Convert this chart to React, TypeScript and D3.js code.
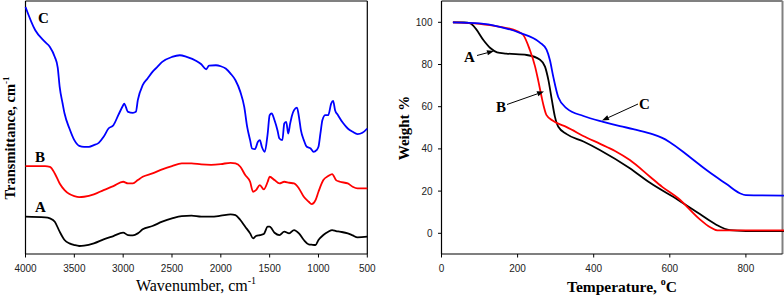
import React from "react";
import * as d3 from "d3";

// ---------- FTIR data (left panel), transmittance in arbitrary units ----------
const ftirWavenumbers_C = [4000,3900,3800,3750,3700,3670,3650,3620,3600,3550,3500,3450,3400,3350,3300,3250,3200,3150,3100,3050,3000,2990,2950,2900,2870,2850,2800,2750,2700,2650,2600,2500,2420,2350,2250,2200,2150,2120,2050,2000,1950,1900,1850,1800,1760,1730,1700,1680,1650,1620,1600,1580,1550,1520,1500,1480,1450,1420,1400,1370,1350,1330,1310,1290,1270,1250,1220,1200,1180,1150,1120,1080,1050,1020,1000,980,960,930,900,870,850,830,800,750,700,650,600,550,500];
const ftirC = [742,672,637,622,592,560,502,452,422,377,342,325,322,322,327,334,352,377,387,417,447,452,427,424,427,462,507,527,547,562,577,592,597,592,580,570,555,566,567,564,557,542,522,487,442,382,342,317,315,337,342,322,307,362,417,422,402,372,347,342,392,397,362,392,417,432,440,412,372,342,322,317,307,312,322,362,402,417,417,452,460,432,417,394,377,367,360,364,377];

const ftirWavenumbers_AB = [4000,3800,3750,3700,3650,3600,3550,3500,3450,3400,3300,3200,3100,3000,2950,2900,2850,2800,2700,2600,2500,2400,2300,2200,2100,2000,1900,1850,1800,1750,1700,1670,1640,1600,1560,1520,1500,1450,1400,1350,1300,1250,1200,1150,1100,1070,1030,1000,950,900,860,820,780,700,650,600,500];
const ftirB = [264,264,262,242,212,192,180,174,171,172,179,192,204,217,212,212,222,232,242,254,264,272,272,269,268,270,274,272,262,237,217,187,192,207,194,217,232,222,212,217,214,212,197,172,157,150,162,187,222,234,240,222,217,212,202,197,197];
const ftirA = [112,110,107,97,67,42,32,27,24,25,32,44,54,64,57,56,62,74,84,97,107,114,115,112,112,115,119,117,102,82,62,47,54,57,60,82,82,64,57,67,62,72,62,42,29,28,27,42,57,67,72,69,67,62,56,50,52];

const ftirXTicks = [4000,3500,3000,2500,2000,1500,1000,500];

// ---------- TGA data (right panel), weight % ----------
const tgaTempA = [30,60,76,90,110,129,146,170,224,259,272,281,290,298,307,329,373,416,495,548,622,679,720,758,800,900];
const tgaA = [100,100,99.5,97,91.6,87.7,85.8,85.2,84.5,82.3,79,72.6,63.2,55.3,50.5,47,43.5,39.5,30.8,23.9,15.8,9.1,4.3,1.5,1.1,1.0];

const tgaTempB = [30,100,150,200,215,232,246,254,263,269,276,294,329,382,417,456,495,548,580,622,679,705,725,800,900];
const tgaB = [100,99.3,98,95.7,94,87,79,72.6,64.7,60,56,53.2,50.3,45.3,42.4,39,34.7,26.8,22,16.6,6.6,3,1.4,1.4,1.4];

const tgaTempC = [30,100,150,206,258,276,285,294,307,329,373,425,469,504,550,580,600,650,700,750,784,800,900];
const tgaC = [100,99.5,98,95,90.5,87,82,74,64.5,59.2,55.6,52.8,50.8,49.4,47.2,45.2,43.2,36.5,29.5,23.2,19,18.1,17.9];

const tgaXTicks = [0,200,400,600,800];
const tgaYTicks = [0,20,40,60,80,100];

const SERIF = "'Liberation Serif', 'Times New Roman', serif";
const SANS = "'Liberation Sans', Arial, sans-serif";

export default function App() {
  // Left panel
  const L = { left: 25.5, right: 367.3, top: 1, bottom: 254 };
  const xL = d3.scaleLinear().domain([4000, 500]).range([L.left, L.right]);
  const yL = d3.scaleLinear().domain([0, 760]).range([L.bottom, L.top]);
  const lineL = (xs: number[], ys: number[]) =>
    d3.line<number>().x((_, i) => xL(xs[i])).y((d) => yL(d)).curve(d3.curveMonotoneX)(ys) || "";

  // Right panel
  const R = { left: 441.5, right: 782.5, top: 1, bottom: 254 };
  const xR = d3.scaleLinear().domain([0, 900]).range([R.left, R.left + 900 * 0.3805]);
  const yR = d3.scaleLinear().domain([0, 100]).range([233.3, 22.3]);
  const lineR = (xs: number[], ys: number[]) =>
    d3.line<number>().x((_, i) => xR(xs[i])).y((d) => yR(d)).curve(d3.curveMonotoneX)(ys) || "";

  const arrow = (x1: number, y1: number, x2: number, y2: number) => {
    const ang = Math.atan2(y2 - y1, x2 - x1);
    const len = 7, w = 2.6;
    const bx = x2 - len * Math.cos(ang), by = y2 - len * Math.sin(ang);
    const px = -Math.sin(ang) * w, py = Math.cos(ang) * w;
    return (
      <g>
        <line x1={x1} y1={y1} x2={bx} y2={by} stroke="#000" strokeWidth={1} />
        <path d={`M${x2},${y2}L${bx + px},${by + py}L${bx - px},${by - py}Z`} fill="#000" />
      </g>
    );
  };

  return (
    <svg width={784} height={298} style={{ position: "absolute", left: 0, top: 0, background: "#fff" }}>
      {/* ---------- Left panel ---------- */}
      <line x1={L.left} y1={L.top} x2={L.right} y2={L.top} stroke="#808080" strokeWidth={2} />
      <line x1={L.left} y1={L.top} x2={L.left} y2={L.bottom} stroke="#000" strokeWidth={1.2} />
      <line x1={L.right} y1={L.top} x2={L.right} y2={L.bottom} stroke="#000" strokeWidth={1.2} />
      <line x1={L.left} y1={L.bottom} x2={L.right} y2={L.bottom} stroke="#000" strokeWidth={1.2} />
      {ftirXTicks.map((t) => (
        <g key={t}>
          <line x1={xL(t)} x2={xL(t)} y1={L.bottom} y2={L.bottom + 3.5} stroke="#000" strokeWidth={1} />
          <text x={xL(t)} y={272} textAnchor="middle" fontFamily={SANS} fontSize={10} fill="#222">{t}</text>
        </g>
      ))}
      <path d={lineL(ftirWavenumbers_C, ftirC)} fill="none" stroke="#0000ff" strokeWidth={1.8} />
      <path d={lineL(ftirWavenumbers_AB, ftirB)} fill="none" stroke="#ff0000" strokeWidth={1.8} />
      <path d={lineL(ftirWavenumbers_AB, ftirA)} fill="none" stroke="#000" strokeWidth={1.8} />
      <text x={38} y={23} fontFamily={SERIF} fontWeight="bold" fontSize={15}>C</text>
      <text x={35} y={162} fontFamily={SERIF} fontWeight="bold" fontSize={15}>B</text>
      <text x={35} y={212} fontFamily={SERIF} fontWeight="bold" fontSize={15}>A</text>
      <text x={196} y={291} textAnchor="middle" fontFamily={SERIF} fontSize={16}>
        Wavenumber, cm<tspan fontSize={10} dy={-7}>-1</tspan>
      </text>
      <text transform="translate(15,138) rotate(-90)" textAnchor="middle" fontFamily={SERIF} fontWeight="bold" fontSize={14.5}>
        Transmittance, cm<tspan fontSize={9} dy={-6}>-1</tspan>
      </text>

      {/* ---------- Right panel ---------- */}
      <line x1={R.left} y1={R.top} x2={R.right} y2={R.top} stroke="#808080" strokeWidth={2} />
      <line x1={R.right} y1={R.top} x2={R.right} y2={R.bottom} stroke="#808080" strokeWidth={2} />
      <line x1={R.left} y1={R.top} x2={R.left} y2={R.bottom} stroke="#000" strokeWidth={1.2} />
      <line x1={R.left} y1={R.bottom} x2={R.right} y2={R.bottom} stroke="#000" strokeWidth={1.2} />
      {tgaXTicks.map((t) => (
        <g key={t}>
          <line x1={xR(t)} x2={xR(t)} y1={R.bottom} y2={R.bottom + 3.5} stroke="#000" strokeWidth={1} />
          <text x={xR(t)} y={272} textAnchor="middle" fontFamily={SANS} fontSize={10} fill="#222">{t}</text>
        </g>
      ))}
      {tgaYTicks.map((t) => (
        <g key={t}>
          <line x1={R.left - 3.5} x2={R.left} y1={yR(t)} y2={yR(t)} stroke="#000" strokeWidth={1} />
          <text x={R.left - 9} y={yR(t) + 3.5} textAnchor="end" fontFamily={SANS} fontSize={10} fill="#222">{t}</text>
        </g>
      ))}
      <path d={lineR(tgaTempA, tgaA)} fill="none" stroke="#000" strokeWidth={1.8} />
      <path d={lineR(tgaTempB, tgaB)} fill="none" stroke="#ff0000" strokeWidth={1.8} />
      <path d={lineR(tgaTempC, tgaC)} fill="none" stroke="#0000ff" strokeWidth={1.8} />
      {arrow(477, 55.5, 494, 51)}
      <text x={464} y={62} fontFamily={SERIF} fontWeight="bold" fontSize={15}>A</text>
      {arrow(507, 104.5, 544, 91.5)}
      <text x={496} y={112} fontFamily={SERIF} fontWeight="bold" fontSize={15}>B</text>
      {arrow(638, 104, 602, 120.5)}
      <text x={639} y={109} fontFamily={SERIF} fontWeight="bold" fontSize={15}>C</text>
      <text x={622} y={292} textAnchor="middle" fontFamily={SERIF} fontWeight="bold" fontSize={15.5}>
        Temperature, <tspan fontSize={10} dy={-7}>o</tspan><tspan dy={7}>C</tspan>
      </text>
      <text transform="translate(409,128) rotate(-90)" textAnchor="middle" fontFamily={SERIF} fontWeight="bold" fontSize={15}>
        Weight %
      </text>
    </svg>
  );
}
